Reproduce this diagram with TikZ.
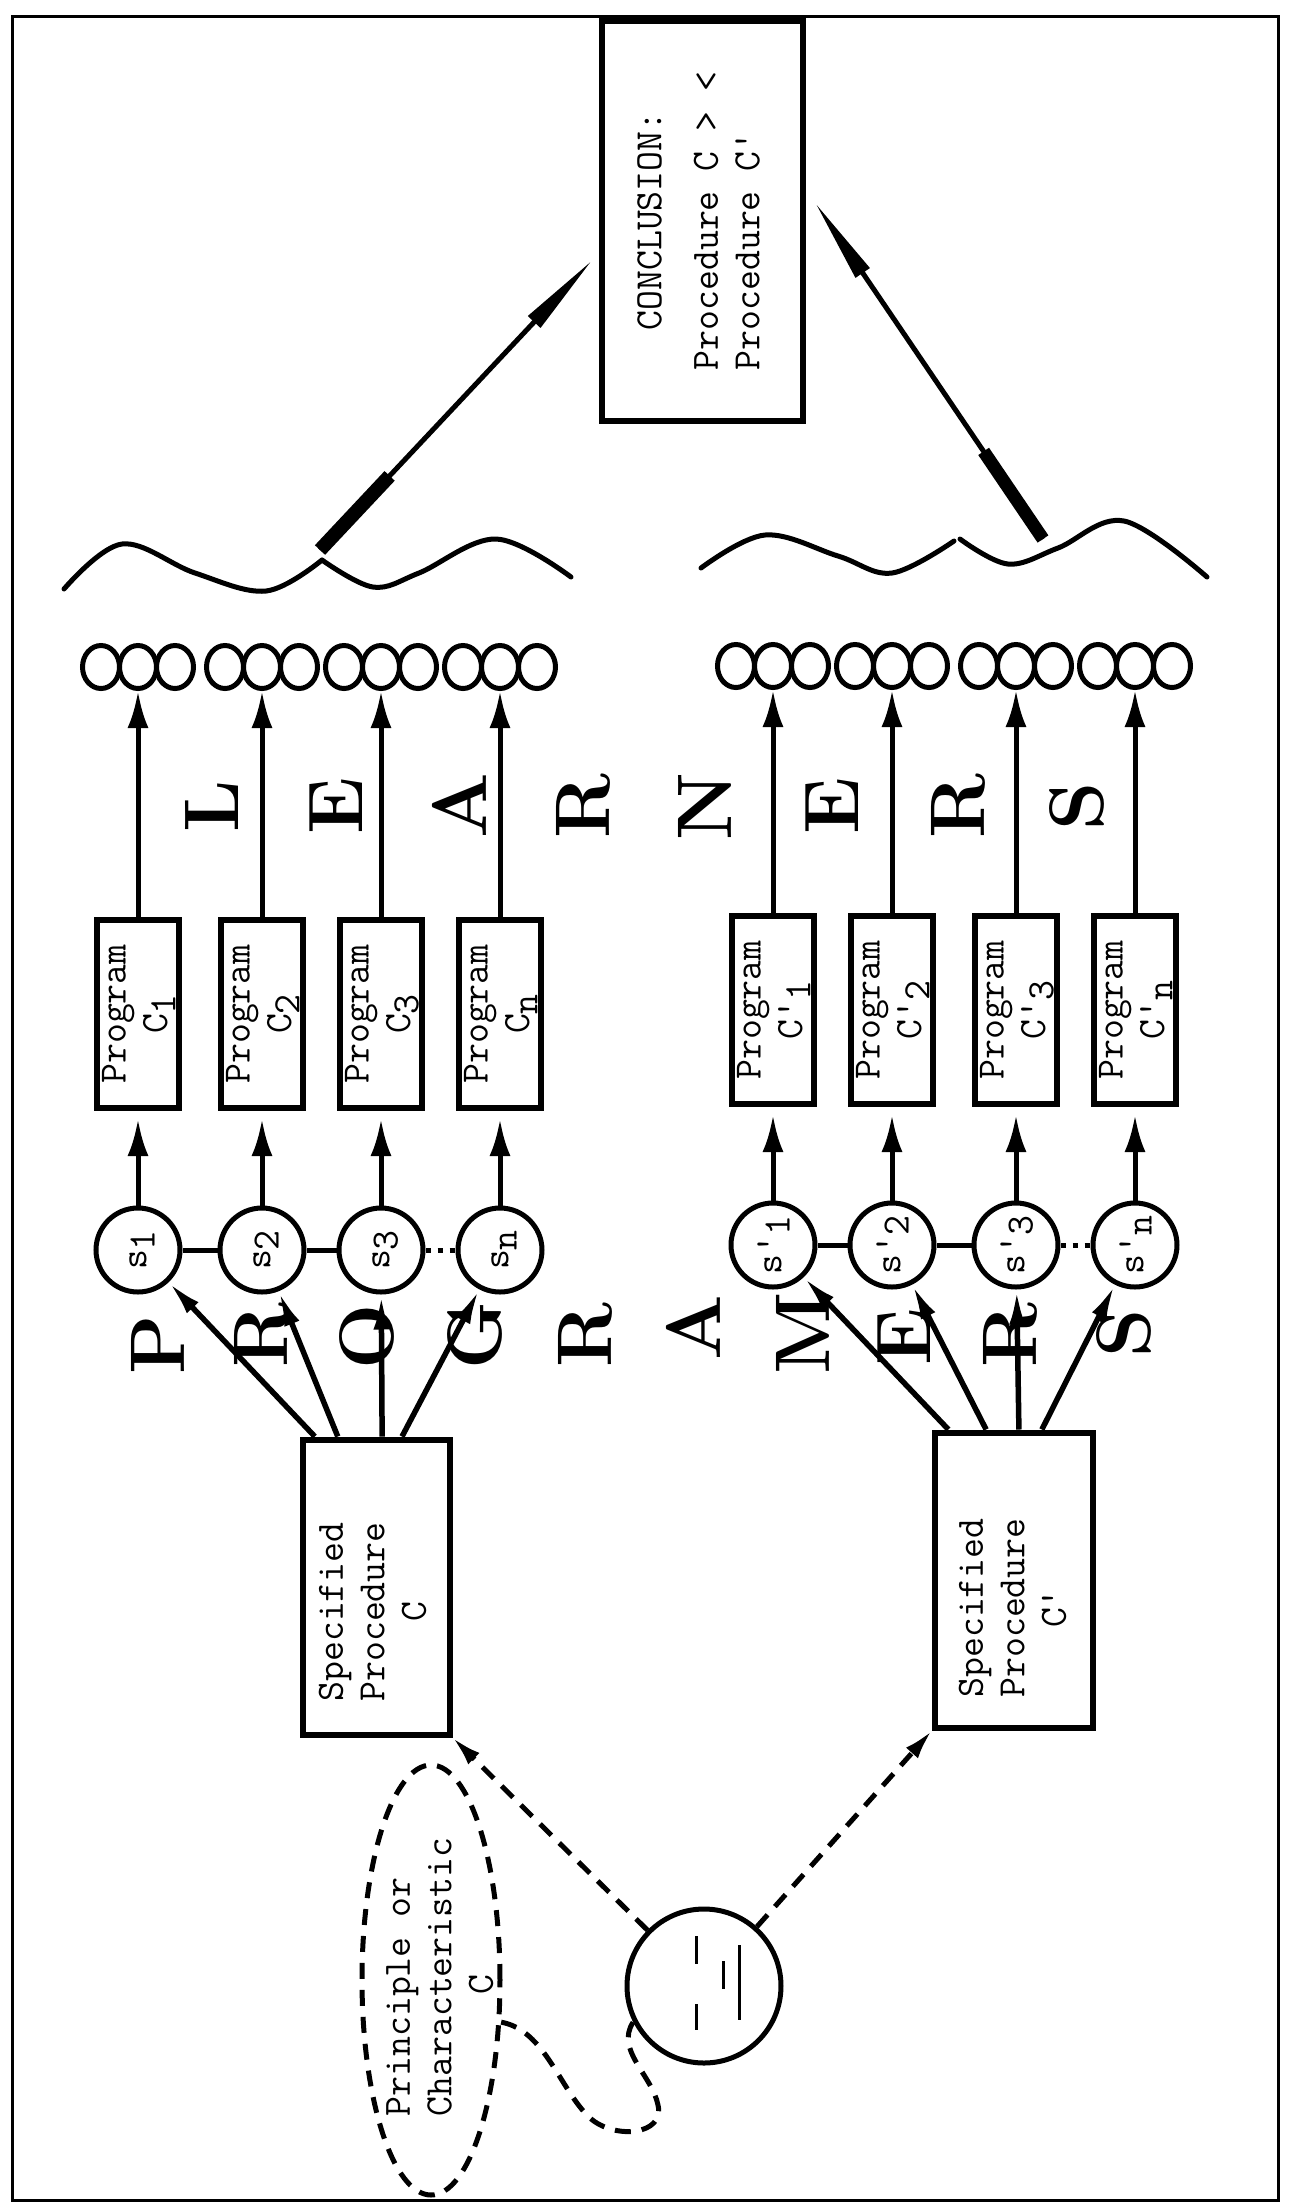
\documentclass[tikz,border=0pt]{standalone}
\usepackage{fontspec}
\usepackage{graphicx}
\usetikzlibrary{arrows.meta,positioning,shapes.geometric,calc}
\newcommand{\vtext}[2][c]{\rotatebox{90}{\begin{tabular}{@{}#1@{}}#2\end{tabular}}}
\newcommand{\lowr}[1]{\raisebox{-0.5ex}{#1}}

\begin{document}
\begin{tikzpicture}[x=0.1mm, y=-0.1mm,
    every node/.style={font=\ttfamily\fontsize{11}{11.8}\selectfont, inner sep=0pt},
    box/.style={draw, line width=0.6mm},
    prog/.style={box, minimum width=7.6mm, minimum height=18.8mm},
    spec/.style={box, minimum height=29.5mm},
    scirc/.style={draw, circle, line width=0.5mm, minimum size=8.4mm},
    outc/.style={draw, ellipse, line width=0.5mm, minimum width=3.7mm, minimum height=4.3mm},
    bigl/.style={font=\rmfamily\bfseries\fontsize{22}{24}\selectfont, rotate=90},
    arr/.style={line width=0.5mm, -{Latex[length=3.7mm, width=2.1mm]}},
    fan/.style={line width=0.55mm, -{Latex[length=3.5mm, width=1.6mm]}},
    dashln/.style={line width=0.5mm, dash pattern=on 1.6mm off 1.1mm},
    spear/.style={line width=0.5mm, -{Triangle[length=8.5mm, width=1.6mm]}},
    wave/.style={line width=0.5mm, line cap=round}]

  \useasboundingbox (0,0) rectangle (1293,2208);
  \draw[line width=0.3mm] (12,16) rectangle (1278,2200);

  \node[box, minimum width=20.1mm, minimum height=40mm] (concl) at (702,221)
    {\vtext[l]{\ \ CONCLUSION:\\[1.5mm] Procedure C > <\\ Procedure C'}};

  \foreach \x/\k [count=\i] in {138/1, 262/2, 381/3, 500/n} {
    \node[prog] (p\i) at (\x,1014) {\vtext{Program\\C\lowr{\k}}};
    \node[scirc] (s\i) at (\x,1250) {\vtext{s\lowr{\k}}};
    \node[outc] (o\i) at (\x,667) {};
    \node[outc, left=-0.5mm of o\i] (oa\i) {};
    \node[outc, right=-0.5mm of o\i] (ob\i) {};
    \draw[arr] (p\i) -- (o\i);
    \draw[arr, shorten >=0.8mm] (s\i) -- (p\i);
  }
  \foreach \x/\k [count=\i from 5] in {773/1, 892/2, 1016/3, 1135/n} {
    \node[prog] (p\i) at (\x,1010) {\vtext{Program\\C'\lowr{\k}}};
    \node[scirc] (s\i) at (\x,1245) {\vtext{s'\lowr{\k}}};
    \node[outc] (o\i) at (\x,666) {};
    \node[outc, left=-0.5mm of o\i] (oa\i) {};
    \node[outc, right=-0.5mm of o\i] (ob\i) {};
    \draw[arr] (p\i) -- (o\i);
    \draw[arr, shorten >=0.8mm] (s\i) -- (p\i);
  }
  \draw[line width=0.5mm] (s1) -- (s2) (s2) -- (s3) (s5) -- (s6) (s6) -- (s7);
  \draw[line width=0.5mm, dotted] (s3) -- (s4) (s7) -- (s8);

  \node[spec, minimum width=14.7mm] (spC) at (376,1587) {};
  \node (spCtxt) at (376,1612) {\vtext{Specified\\Procedure\\C}};
  \node[spec, minimum width=15.8mm] (spCp) at (1014,1580) {};
  \node (spCptxt) at (1016,1608) {\vtext{Specified\\Procedure\\C'}};

  \foreach \f/\i in {0.1/1, 0.25/2, 0.54/3, 0.67/4}
    \draw[fan] ($(spC.north west)!\f!(spC.north east)$) -- (s\i);
  \foreach \f/\i in {0.1/5, 0.33/6, 0.53/7, 0.67/8}
    \draw[fan] ($(spCp.north west)!\f!(spCp.north east)$) -- (s\i);

  \node[scirc, minimum size=15.4mm] (crit) at (704,1986) {};
  \draw[line width=0.3mm] ($(crit)+(-8,-50)$) -- ++(0,28) ($(crit)+(-8,18)$) -- ++(0,26)
    ($(crit)+(19,-25)$) -- ++(0,28) ($(crit)+(35,-41)$) -- ++(0,75);
  \node[draw, dashln, ellipse, minimum width=13.8mm, minimum height=43mm] (prin) at (431,1980) {};
  \node (printxt) at (443,1977) {\vtext[l]{Principle or\\Characteristic\\\hspace*{3.15em}C}};
  \draw[dashln, -{Latex[length=3mm, width=1.6mm]}] (crit) -- (spC.south east);
  \draw[dashln, -{Latex[length=3mm, width=1.6mm]}] (crit) -- (spCp.south west);
  \draw[dashln] (prin.-31) .. controls (545,2030) and (560,2090) .. (590,2118)
    .. controls (615,2140) and (665,2135) .. (658,2105)
    .. controls (652,2075) and (615,2050) .. (crit.207);

  \draw[wave] plot[smooth, tension=0.6] coordinates {(64,589) (122,544) (195,573) (266,591) (322,560)};
  \draw[wave] plot[smooth, tension=0.6] coordinates {(322,560) (373,587) (419,573) (496,539) (571,577)};
  \draw[wave] plot[smooth, tension=0.6] coordinates {(701,568) (765,535) (838,556) (892,573) (954,541)};
  \draw[wave] plot[smooth, tension=0.6] coordinates {(960,539) (1008,564) (1058,548) (1124,521) (1207,577)};

  \coordinate (cuspL) at (320,550);
  \coordinate (cuspR) at (1043,539);
  \coordinate (tipL) at ($(concl.south west)!0.42!(concl.north west)$);
  \coordinate (tipR) at ($(concl.south east)!0.58!(concl.north east)$);
  \draw[spear, shorten >=0.9mm] (cuspL) -- (tipL);
  \draw[line width=1.4mm] (cuspL) -- ($(cuspL)!0.25!(tipL)$);
  \draw[spear, shorten >=1.7mm] (cuspR) -- (tipR);
  \draw[line width=1.3mm] (cuspR) -- ($(cuspR)!0.25!(tipR)$);

  \foreach \ltr/\x [count=\i] in {L/212, E/336, A/459, R/583, N/705, E/832, R/958, S/1077}
    \node[bigl] (lrn\i) at (\x,806) {\ltr};
  \foreach \ltr/\x/\y [count=\i] in {P/158/1345, R/261/1335, O/367/1337, G/475/1335, R/585/1335,
      A/693/1328, M/803/1333, E/904/1337, R/1010/1335, S/1124/1333}
    \node[bigl] (prg\i) at (\x,\y) {\ltr};
\end{tikzpicture}
\end{document}
